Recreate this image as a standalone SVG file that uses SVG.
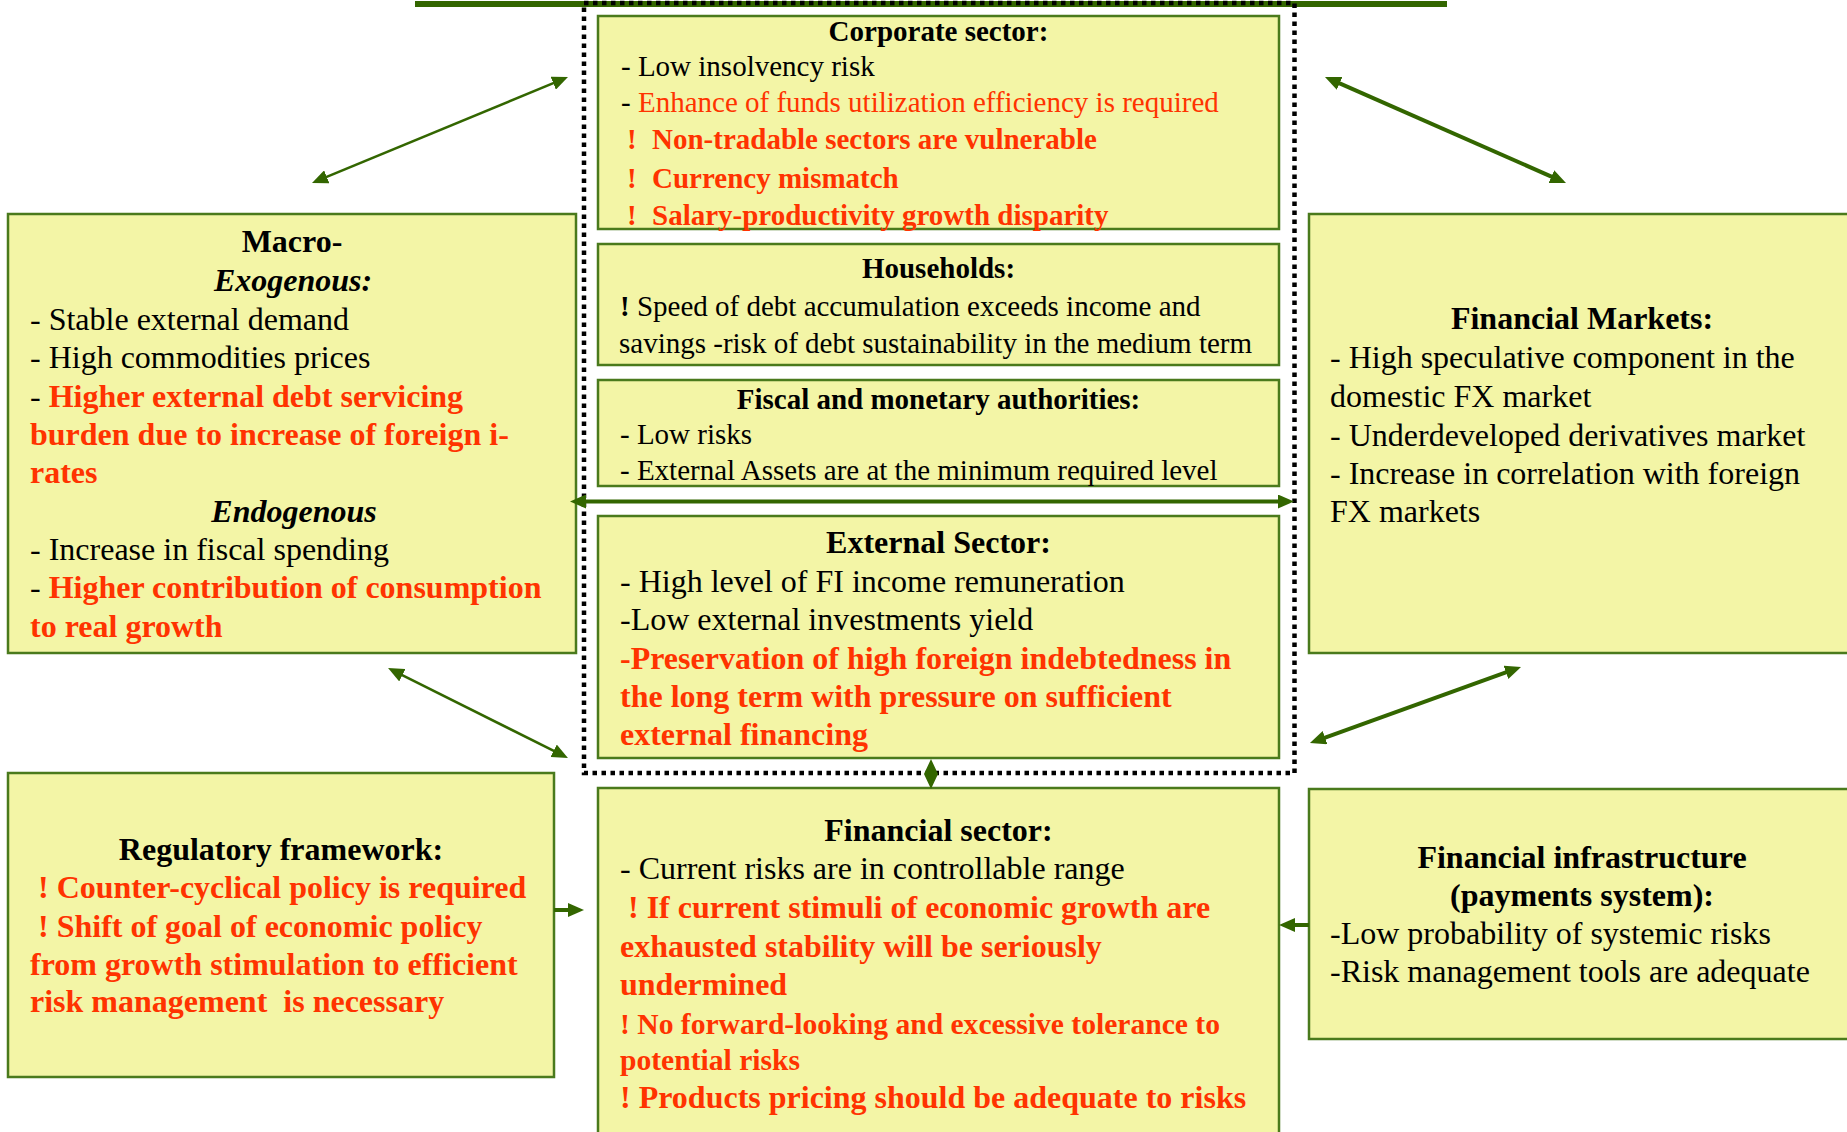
<svg xmlns="http://www.w3.org/2000/svg" width="1847" height="1132" viewBox="0 0 1847 1132">
<defs>
<style>
.box{fill:#f3f5a6;stroke:#4a7a1c;stroke-width:2.5}
text{font-family:"Liberation Serif","Times New Roman",serif;fill:#000}
.s29{font-size:29px}
.s30{font-size:29.6px}
.s32{font-size:32px}
.b{font-weight:bold}
.i{font-style:italic}
.r{fill:#ff3300}
.k{fill:#000}
.c{text-anchor:middle}
.pre{white-space:pre}
.con{stroke:#336600;fill:none}
.thin{stroke-width:2.5}
.thick{stroke-width:4}
</style>
<marker id="ah" viewBox="0 0 16 14" refX="8" refY="7" markerWidth="16" markerHeight="14" markerUnits="userSpaceOnUse" orient="auto-start-reverse">
<path d="M0,0 L16,7 L0,14 z" fill="#336600"/>
</marker>
<marker id="dh" viewBox="0 0 15 14" refX="7" refY="7" markerWidth="15" markerHeight="14" markerUnits="userSpaceOnUse" orient="auto-start-reverse">
<path d="M0,0 L15,7 L0,14 z" fill="#336600"/>
</marker>
</defs>
<rect x="0" y="0" width="1847" height="1132" fill="#ffffff"/>
<rect id="top-line" x="415" y="1" width="1032" height="6" fill="#336600"/>
<rect id="group-frame" x="584" y="3" width="710.5" height="770" fill="none" stroke="#000" stroke-width="4.5" stroke-dasharray="4.5 4.5"/>

<g id="macro">
<rect class="box" x="8" y="214" width="568" height="439"/>
<text class="s32 b c" x="292" y="252">Macro-</text>
<text class="s32 b i c" x="293" y="291">Exogenous:</text>
<text class="s32" x="30" y="330">- Stable external demand</text>
<text class="s32" x="30" y="368">- High commodities prices</text>
<text class="s32" x="30" y="407">- <tspan class="r b">Higher external debt servicing</tspan></text>
<text class="s32 r b" x="30" y="445">burden due to increase of foreign i-</text>
<text class="s32 r b" x="30" y="483">rates</text>
<text class="s32 b i c" x="294" y="522">Endogenous</text>
<text class="s32" x="30" y="560">- Increase in fiscal spending</text>
<text class="s32" x="30" y="598">- <tspan class="r b">Higher contribution of consumption</tspan></text>
<text class="s32 r b" x="30" y="637">to real growth</text>
</g>

<g id="regulatory">
<rect class="box" x="8" y="773" width="546" height="304"/>
<text class="s32 b c" x="281" y="860">Regulatory framework:</text>
<text class="s32 r b" x="38" y="898">! Counter-cyclical policy is required</text>
<text class="s32 r b" x="38" y="937">! Shift of goal of economic policy</text>
<text class="s32 r b" x="30" y="975">from growth stimulation to efficient</text>
<text class="s32 r b pre" x="30" y="1012">risk management  is necessary</text>
</g>

<g id="corporate">
<rect class="box" x="598" y="16" width="681" height="213"/>
<text class="s29 b c" x="938.5" y="41">Corporate sector:</text>
<text class="s29" x="621" y="76">- Low insolvency risk</text>
<text class="s29" x="621" y="112">- <tspan class="r">Enhance of funds utilization efficiency is required</tspan></text>
<text class="s29 r b" y="149"><tspan x="627">!</tspan><tspan x="652">Non-tradable sectors are vulnerable</tspan></text>
<text class="s29 r b" y="188"><tspan x="627">!</tspan><tspan x="652">Currency mismatch</tspan></text>
<text class="s29 r b" y="225"><tspan x="627">!</tspan><tspan x="652">Salary-productivity growth disparity</tspan></text>
</g>

<g id="households">
<rect class="box" x="598" y="244" width="681" height="121"/>
<text class="s29 b c" x="938.5" y="278">Households:</text>
<text class="s29" x="620" y="316"><tspan class="b">! </tspan>Speed of debt accumulation exceeds income and</text>
<text class="s29" x="619" y="353">savings -risk of debt sustainability in the medium term</text>
</g>

<g id="fiscal">
<rect class="box" x="598" y="380" width="681" height="106"/>
<text class="s29 b c" x="938.5" y="409">Fiscal and monetary authorities:</text>
<text class="s29" x="620" y="444">- Low risks</text>
<text class="s29" x="620" y="480">- External Assets are at the minimum required level</text>
</g>

<g id="external">
<rect class="box" x="598" y="516" width="681" height="242"/>
<text class="s32 b c" x="938.5" y="553">External Sector:</text>
<text class="s32" x="620" y="592">- High level of FI income remuneration</text>
<text class="s32" x="620" y="630">-Low external investments yield</text>
<text class="s32 r b" x="620" y="669">-Preservation of high foreign indebtedness in</text>
<text class="s32 r b" x="620" y="707">the long term with pressure on sufficient</text>
<text class="s32 r b" x="620" y="745">external financing</text>
</g>

<g id="financial-sector">
<rect class="box" x="598" y="788" width="681" height="360"/>
<text class="s32 b c" x="938.5" y="841">Financial sector:</text>
<text class="s32" x="620" y="879">- Current risks are in controllable range</text>
<text class="s32 r b" x="628" y="918">! If current stimuli of economic growth are</text>
<text class="s32 r b" x="620" y="957">exhausted stability will be seriously</text>
<text class="s32 r b" x="620" y="995">undermined</text>
<text class="s30 r b" x="620" y="1034">! No forward-looking and excessive tolerance to</text>
<text class="s30 r b" x="620" y="1070">potential risks</text>
<text class="s32 r b" x="620" y="1108">! Products pricing should be adequate to risks</text>
</g>

<g id="financial-markets">
<rect class="box" x="1309" y="214" width="560" height="439"/>
<text class="s32 b c" x="1582" y="329">Financial Markets:</text>
<text class="s32" x="1330" y="368">- High speculative component in the</text>
<text class="s32" x="1330" y="407">domestic FX market</text>
<text class="s32" x="1330" y="446">- Underdeveloped derivatives market</text>
<text class="s32" x="1330" y="484">- Increase in correlation with foreign</text>
<text class="s32" x="1330" y="522">FX markets</text>
</g>

<g id="financial-infrastructure">
<rect class="box" x="1309" y="789" width="560" height="250"/>
<text class="s32 b c" x="1582" y="868">Financial infrastructure</text>
<text class="s32 b c" x="1582" y="906">(payments system):</text>
<text class="s32" x="1330" y="944">-Low probability of systemic risks</text>
<text class="s32" x="1330" y="982">-Risk management tools are adequate</text>
</g>

<g id="connectors">
<line class="con thin" x1="319.4" y1="179.9" x2="560.6" y2="80.1" marker-start="url(#ah)" marker-end="url(#ah)"/>
<line class="con thick" x1="1332.3" y1="80.2" x2="1558.7" y2="179.8" marker-start="url(#ah)" marker-end="url(#ah)"/>
<line class="con thin" x1="395.2" y1="671.6" x2="560.8" y2="754.4" marker-start="url(#ah)" marker-end="url(#ah)"/>
<line class="con thick" x1="1513.5" y1="669.7" x2="1317.5" y2="740.3" marker-start="url(#ah)" marker-end="url(#ah)"/>
<line class="con thick" x1="578" y1="501.5" x2="1286" y2="501.5" marker-start="url(#ah)" marker-end="url(#ah)"/>
<line class="con thick" x1="931" y1="767" x2="931" y2="781" marker-start="url(#dh)" marker-end="url(#dh)"/>
<line class="con thick" x1="554" y1="910" x2="576" y2="910" marker-end="url(#ah)"/>
<line class="con thick" x1="1309" y1="925" x2="1287" y2="925" marker-end="url(#ah)"/>
</g>
</svg>
